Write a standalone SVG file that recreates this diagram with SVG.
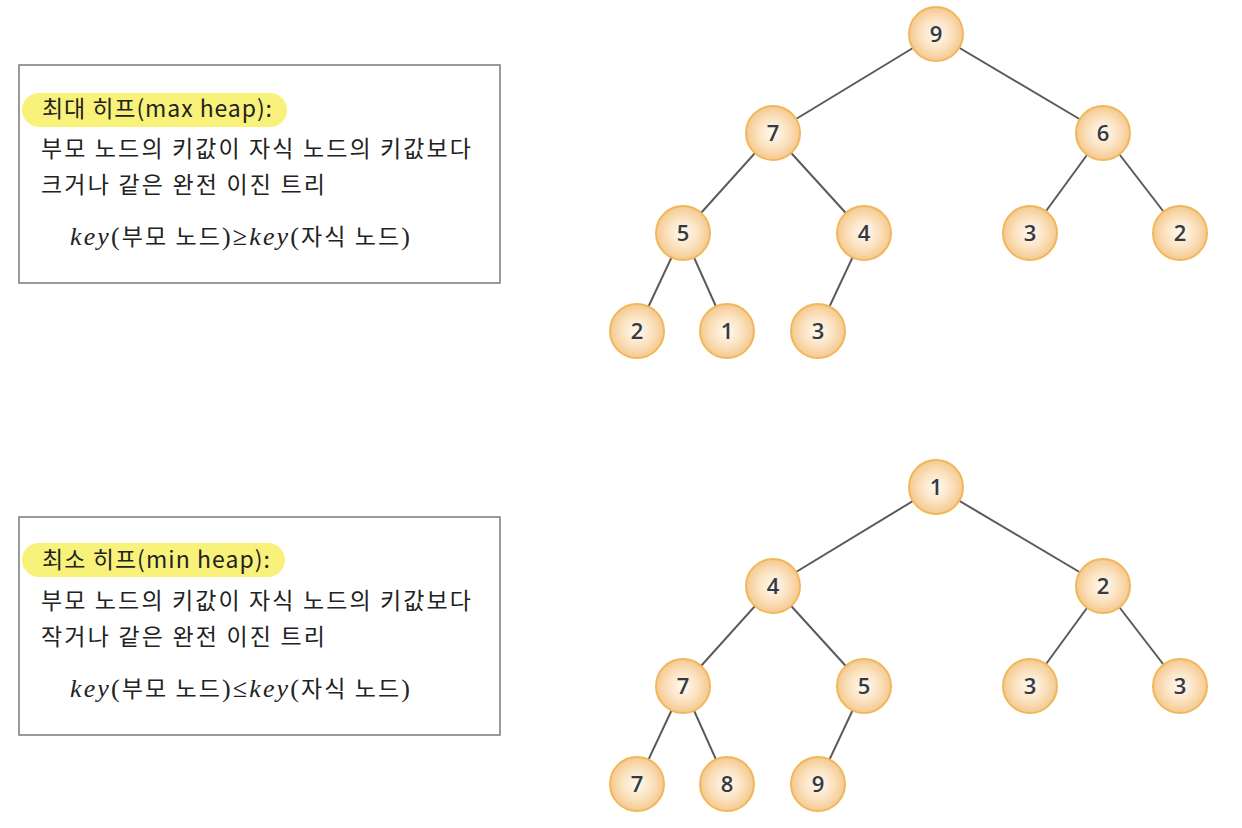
<svg xmlns="http://www.w3.org/2000/svg" width="1242" height="828" viewBox="0 0 1242 828">
<defs>
<radialGradient id="g" cx="50%" cy="50%" r="50%">
<stop offset="0" stop-color="#fffaf2"/>
<stop offset="0.55" stop-color="#fbe3c2"/>
<stop offset="1" stop-color="#f5c98f"/>
</radialGradient>
<style>
.box{fill:#fff;stroke:#7a7a7a;stroke-width:1.5}
.hl{fill:#f9f27a}
.t{font-family:"Noto Sans CJK KR","Noto Sans",sans-serif;font-size:23px;fill:#222}
.f{font-family:"Liberation Serif","Noto Sans CJK KR",serif;font-size:26px;fill:#222}
.k{font-family:"Liberation Serif",serif;font-style:italic}
.fk{font-family:"Noto Sans CJK KR",sans-serif;font-size:23px}
.n circle{fill:url(#g);stroke:#f0b85a;stroke-width:2}
.n text{font-family:"Open Sans","Liberation Sans",sans-serif;font-size:22px;font-weight:600;fill:#353a42;text-anchor:middle}
.e line{stroke:#5a5a5a;stroke-width:2}
</style>
</defs>
<rect width="1242" height="828" fill="#fff"/>
<g id="box-max">
<rect class="box" x="19" y="65" width="481" height="218"/>
<rect class="hl" x="22" y="93" width="265" height="34" rx="17"/>
<text class="t" x="42" y="117" textLength="230" lengthAdjust="spacing">최대 히프(max heap):</text>
<text class="t" x="41" y="157" textLength="430" lengthAdjust="spacing">부모 노드의 키값이 자식 노드의 키값보다</text>
<text class="t" x="41" y="193" textLength="284" lengthAdjust="spacing">크거나 같은 완전 이진 트리</text>
<text class="f" x="70" y="245" textLength="340" lengthAdjust="spacing"><tspan class="k">key</tspan>(<tspan class="fk">부모 노드</tspan>)≥<tspan class="k">key</tspan>(<tspan class="fk">자식 노드</tspan>)</text>
</g>
<g id="box-min">
<rect class="box" x="19" y="517" width="481" height="218"/>
<rect class="hl" x="22" y="543" width="263" height="34" rx="17"/>
<text class="t" x="42" y="568" textLength="228" lengthAdjust="spacing">최소 히프(min heap):</text>
<text class="t" x="41" y="609" textLength="430" lengthAdjust="spacing">부모 노드의 키값이 자식 노드의 키값보다</text>
<text class="t" x="41" y="645" textLength="284" lengthAdjust="spacing">작거나 같은 완전 이진 트리</text>
<text class="f" x="70" y="697" textLength="340" lengthAdjust="spacing"><tspan class="k">key</tspan>(<tspan class="fk">부모 노드</tspan>)≤<tspan class="k">key</tspan>(<tspan class="fk">자식 노드</tspan>)</text>
</g>
<g id="connectors" class="e">
<line x1="936" y1="34" x2="773" y2="133"/>
<line x1="936" y1="34" x2="1103" y2="133"/>
<line x1="773" y1="133" x2="683" y2="233"/>
<line x1="773" y1="133" x2="864" y2="233"/>
<line x1="1103" y1="133" x2="1030" y2="233"/>
<line x1="1103" y1="133" x2="1180" y2="233"/>
<line x1="683" y1="233" x2="637" y2="331"/>
<line x1="683" y1="233" x2="727" y2="331"/>
<line x1="864" y1="233" x2="818" y2="331"/>
<line x1="936" y1="487" x2="773" y2="586"/>
<line x1="936" y1="487" x2="1103" y2="586"/>
<line x1="773" y1="586" x2="683" y2="686"/>
<line x1="773" y1="586" x2="864" y2="686"/>
<line x1="1103" y1="586" x2="1030" y2="686"/>
<line x1="1103" y1="586" x2="1180" y2="686"/>
<line x1="683" y1="686" x2="637" y2="784"/>
<line x1="683" y1="686" x2="727" y2="784"/>
<line x1="864" y1="686" x2="818" y2="784"/>
</g>
<g id="max-9" class="n"><circle cx="936" cy="34" r="27"/><text x="936" y="42">9</text></g>
<g id="max-7" class="n"><circle cx="773" cy="133" r="27"/><text x="773" y="141">7</text></g>
<g id="max-6" class="n"><circle cx="1103" cy="133" r="27"/><text x="1103" y="141">6</text></g>
<g id="max-5" class="n"><circle cx="683" cy="233" r="27"/><text x="683" y="241">5</text></g>
<g id="max-4" class="n"><circle cx="864" cy="233" r="27"/><text x="864" y="241">4</text></g>
<g id="max-3a" class="n"><circle cx="1030" cy="233" r="27"/><text x="1030" y="241">3</text></g>
<g id="max-2a" class="n"><circle cx="1180" cy="233" r="27"/><text x="1180" y="241">2</text></g>
<g id="max-2b" class="n"><circle cx="637" cy="331" r="27"/><text x="637" y="339">2</text></g>
<g id="max-1" class="n"><circle cx="727" cy="331" r="27"/><text x="727" y="339">1</text></g>
<g id="max-3b" class="n"><circle cx="818" cy="331" r="27"/><text x="818" y="339">3</text></g>
<g id="min-1" class="n"><circle cx="936" cy="487" r="27"/><text x="936" y="495">1</text></g>
<g id="min-4" class="n"><circle cx="773" cy="586" r="27"/><text x="773" y="594">4</text></g>
<g id="min-2" class="n"><circle cx="1103" cy="586" r="27"/><text x="1103" y="594">2</text></g>
<g id="min-7a" class="n"><circle cx="683" cy="686" r="27"/><text x="683" y="694">7</text></g>
<g id="min-5" class="n"><circle cx="864" cy="686" r="27"/><text x="864" y="694">5</text></g>
<g id="min-3a" class="n"><circle cx="1030" cy="686" r="27"/><text x="1030" y="694">3</text></g>
<g id="min-3b" class="n"><circle cx="1180" cy="686" r="27"/><text x="1180" y="694">3</text></g>
<g id="min-7b" class="n"><circle cx="637" cy="784" r="27"/><text x="637" y="792">7</text></g>
<g id="min-8" class="n"><circle cx="727" cy="784" r="27"/><text x="727" y="792">8</text></g>
<g id="min-9" class="n"><circle cx="818" cy="784" r="27"/><text x="818" y="792">9</text></g>
</svg>
